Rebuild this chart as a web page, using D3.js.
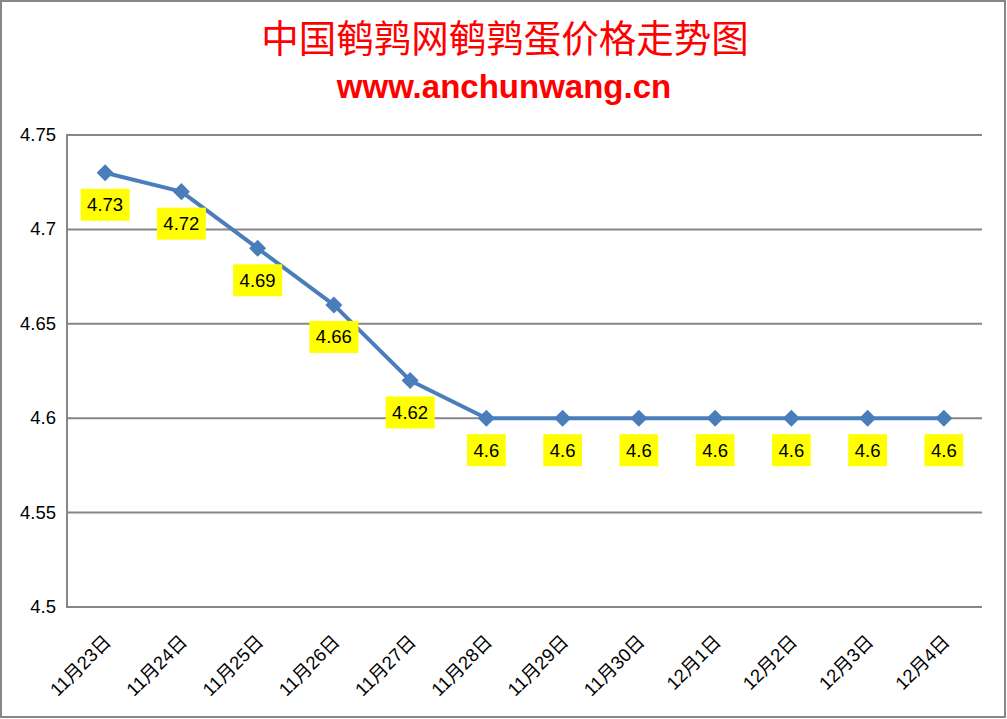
<!DOCTYPE html>
<html><head><meta charset="utf-8">
<script src="https://cdn.jsdelivr.net/npm/d3@7/dist/d3.min.js"></script>
<style>html,body{margin:0;padding:0;background:#fff;}svg{display:block;}</style>
</head><body>
<script>
const categories = ["11月23日","11月24日","11月25日","11月26日","11月27日","11月28日","11月29日","11月30日","12月1日","12月2日","12月3日","12月4日"];
const values = [4.73,4.72,4.69,4.66,4.62,4.6,4.6,4.6,4.6,4.6,4.6,4.6];
const yTicks = [4.5,4.55,4.6,4.65,4.7,4.75];
const title = "中国鹌鹑网鹌鹑蛋价格走势图";
const subtitle = "www.anchunwang.cn";

(function(){
const W = 1007, H = 719;
const svg = d3.select("body").append("svg").attr("width", W).attr("height", H);
svg.append("rect").attr("x",1).attr("y",1).attr("width",W-3).attr("height",H-3)
  .attr("fill","#fff").attr("stroke","#868686").attr("stroke-width",2);

const pl = 67, pr = 982, pt = 135, pb = 607;
const x = d3.scalePoint().domain(categories).range([pl, pr]).padding(0.5);
const y = d3.scaleLinear().domain([4.5, 4.75]).range([pb, pt]);

// gridlines
svg.append("g").selectAll("line").data(yTicks).join("line")
  .attr("x1", pl).attr("x2", pr).attr("y1", d=>y(d)).attr("y2", d=>y(d))
  .attr("stroke","#868686").attr("stroke-width",2);
svg.append("line").attr("x1",pl).attr("x2",pl).attr("y1",pt-1).attr("y2",pb+1)
  .attr("stroke","#868686").attr("stroke-width",2);

// y labels
svg.append("g").selectAll("text").data(yTicks).join("text")
  .attr("x", 56).attr("y", d=>y(d)+6).attr("text-anchor","end")
  .attr("font-family","Liberation Sans, Arial, sans-serif").attr("font-size",18.5).attr("fill","#000")
  .text(d=>String(+d.toFixed(2)));

// x labels
svg.append("g").selectAll("text").data(categories).join("text")
  .attr("transform", d=>`translate(${x(d)+7},${pb+36}) rotate(-45)`)
  .attr("text-anchor","end")
  .attr("font-family","Liberation Sans, 'Noto Sans CJK SC', sans-serif").attr("font-size",18.5).attr("fill","#000")
  .text(d=>d);

// line
const line = d3.line().x((d,i)=>x(categories[i])).y(d=>y(d));
svg.append("path").datum(values).attr("d", line).attr("fill","none")
  .attr("stroke","#4A7EBB").attr("stroke-width",4).attr("stroke-linejoin","round");

svg.append("g").selectAll("path").data(values).join("path")
  .attr("d", d3.symbol(d3.symbolDiamond2, 185)())
  .attr("transform",(d,i)=>`translate(${x(categories[i])},${y(d)})`)
  .attr("fill","#4A7EBB");

// data labels
const lg = svg.append("g");
values.forEach((v,i)=>{
  const cx = x(categories[i]), cy = y(v)+32;
  const t = String(v);
  const t2 = lg.append("text").attr("x",cx).attr("y",cy+6.5).attr("text-anchor","middle")
    .attr("font-family","Liberation Sans, Arial, sans-serif").attr("font-size",18.5).attr("fill","#000").text(t);
  const bw = t2.node().getComputedTextLength()+13;
  lg.insert("rect","text").attr("x",cx-bw/2).attr("y",cy-16).attr("width",bw).attr("height",32).attr("fill","#FFFF00");
});

// titles
svg.append("text").attr("x",505).attr("y",52).attr("text-anchor","middle")
  .attr("font-family","'Noto Sans CJK SC', sans-serif").attr("font-size",37.5).attr("fill","#FF0000").text(title);
svg.append("text").attr("x",504).attr("y",98).attr("text-anchor","middle")
  .attr("font-family","Liberation Sans, Arial, sans-serif").attr("font-weight","bold").attr("font-size",33).attr("fill","#FF0000").text(subtitle);
})();
</script>
</body></html>
